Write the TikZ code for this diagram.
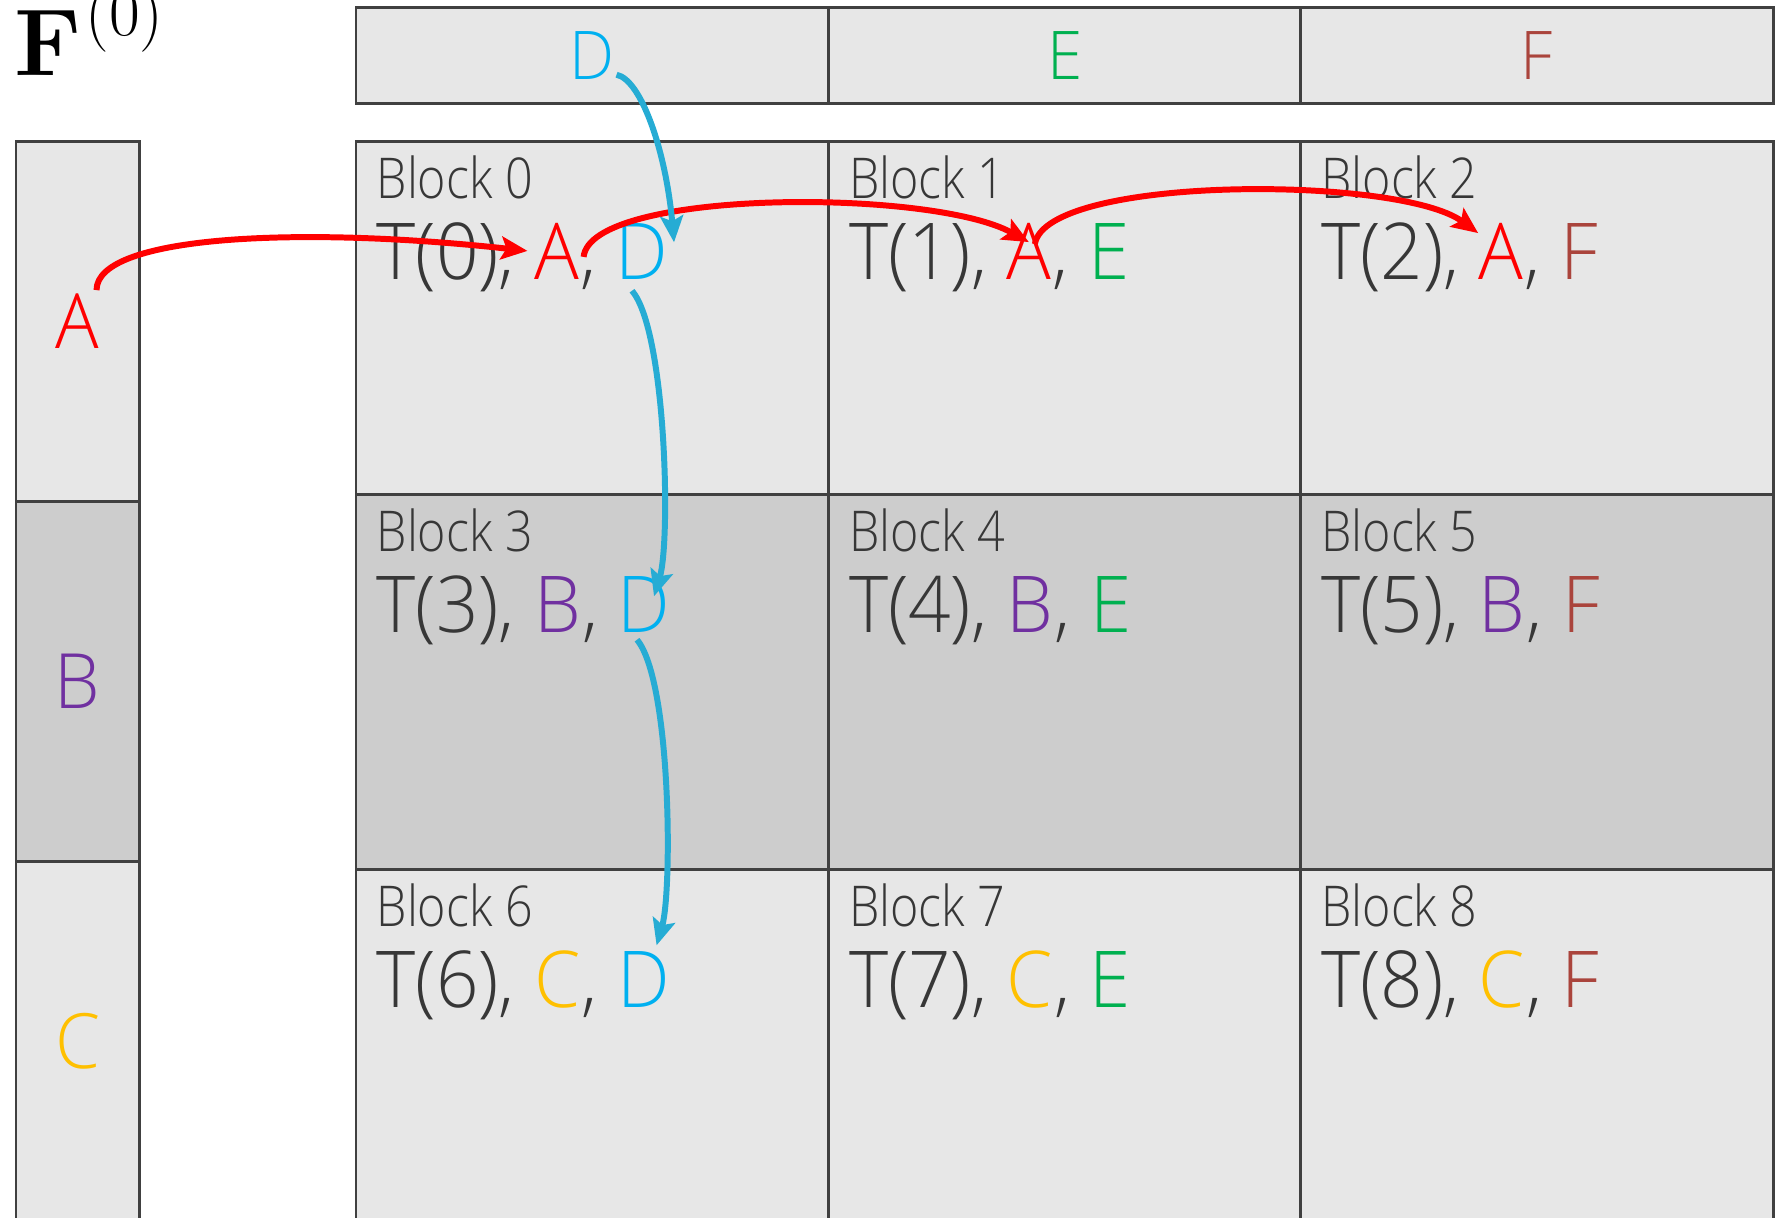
\documentclass[tikz,border=0pt]{standalone}
\usepackage[no-math]{fontspec}
\setmainfont{Open Sans}
\newfontfamily\lmfont{Latin Modern Roman}
\IfFontExistsTF{Open Sans Light}{%
  \newfontfamily\blockfont{Open Sans Light}[FakeStretch=0.86]
  \newfontfamily\tfont{Open Sans Light}[FakeStretch=0.95]
}{%
  \newfontfamily\blockfont{Open Sans}[FakeStretch=0.83]
  \newfontfamily\tfont{Open Sans}[FakeStretch=0.9]
}
\usetikzlibrary{arrows.meta,calc}
\definecolor{gridline}{RGB}{64,64,64}
\definecolor{lightfill}{RGB}{231,231,231}
\definecolor{darkfill}{RGB}{205,205,205}
\definecolor{txt}{RGB}{55,55,55}
\definecolor{cA}{RGB}{255,0,0}
\definecolor{cB}{RGB}{112,48,160}
\definecolor{cC}{RGB}{255,192,0}
\definecolor{cD}{RGB}{0,176,240}
\definecolor{cE}{RGB}{0,176,80}
\definecolor{cF}{RGB}{170,68,60}
\definecolor{blueflow}{RGB}{38,172,212}
\tikzset{
  cell/.style={draw=gridline, line width=0.85pt, inner sep=0pt, outer sep=0pt, anchor=north west},
  lbl/.style={inner sep=0pt, anchor=base west, text=txt, font=\blockfont\fontsize{16}{18}\selectfont},
  tl/.style={inner sep=0pt, anchor=base west, text=txt, font=\tfont\fontsize{22.3}{26}\selectfont},
  hdr/.style={inner sep=0pt, font=\tfont\fontsize{19.1}{22}\selectfont},
  sidelbl/.style={inner sep=0pt, font=\tfont\fontsize{21.7}{25}\selectfont},
  redflow/.style={draw=cA, line width=1.7pt, -{Stealth[length=7.5pt,width=6.5pt,inset=1.5pt]}},
  blueflowarrow/.style={draw=blueflow, line width=1.7pt, -{Stealth[length=7.5pt,width=6.5pt,inset=1.5pt]}},
}
\begin{document}
\begin{tikzpicture}[x=0.01cm,y=-0.01cm]
\useasboundingbox (0,0) rectangle (1781,1217);
\fill[white] (0,0) rectangle (1781,1217);
% title
\node[anchor=base west, inner sep=0pt] (title) at (14,75)
  {{\lmfont\fontsize{27}{30}\selectfont\bfseries F}\hspace{1pt}{\lmfont\fontsize{19}{21}\selectfont\raisebox{11.3pt}{(0)}}};
% header
\foreach \c/\L/\col in {0/D/cD,1/E/cE,2/F/cF}{
  \node[cell, fill=lightfill, minimum width=4.7233cm, minimum height=0.96cm] (h\c) at ({356+472.33*\c},7) {};
  \node[hdr, text=\col] (h\L) at (h\c.center) {\L};
}
% left column
\foreach \r/\L/\col/\f in {0/A/cA/lightfill,1/B/cB/darkfill,2/C/cC/lightfill}{
  \node[cell, fill=\f, minimum width=1.23cm, minimum height=3.601cm] (s\r) at (16,{141+360.1*\r}) {};
  \node[sidelbl, text=\col] (s\L) at (s\r.center) {\L};
}
% grid of blocks
\foreach \r/\ry/\rh/\L/\lc/\f in {0/141/3.53/A/cA/lightfill,1/494/3.75/B/cB/darkfill,2/869/3.75/C/cC/lightfill}{
  \foreach \c/\M/\mc in {0/D/cD,1/E/cE,2/F/cF}{
    \pgfmathtruncatemacro\k{3*\r+\c}
    \node[cell, fill=\f, minimum width=4.7233cm, minimum height=\rh cm] (b\k) at ({356+472.33*\c},\ry) {};
    \node[lbl] (bl\k) at ($(b\k.north west)+(20,57)$) {Block \k};
    \node[tl] (t\k) at ($(b\k.north west)+(20,138)$) {T(\k),};
    \node[tl, text=\lc] (r\k) at ($(t\k.base east)+(18,0)$) {\L};
    \node[tl] (k\k) at (r\k.base east) {,};
    \node[tl, text=\mc] (c\k) at ($(k\k.base east)+(18,0)$) {\M};
  }
}
% red arrows
\draw[redflow] ($(sA.north)+(19,-3)$) .. controls +(0,-55) and +(-226,-25) .. ($(r0.west)+(-6,0)$);
\draw[redflow] ($(r0.east)+(4,6)$) .. controls +(7,-68) and +(-98,-54) .. ($(r1.north)+(0,20)$);
\draw[redflow] ($(r1.north)+(6,22)$) .. controls +(11,-69) and +(-79,-58) .. ($(r2.north west)+(0,11)$);
% blue arrows
\draw[blueflowarrow] ($(hD.south east)+(1,-5)$) .. controls +(25,5) and +(-8,-90) .. ($(c0.north east)+(5,20)$);
\draw[blueflowarrow] ($(c0.south)+(-10,11)$) .. controls +(34,40) and +(17,-56) .. ($(c3.north)+(10,21)$);
\draw[blueflowarrow] ($(c3.south)+(-7,7)$) .. controls +(34,41) and +(16,-55) .. ($(c6.north)+(13,-5)$);
\end{tikzpicture}
\end{document}
